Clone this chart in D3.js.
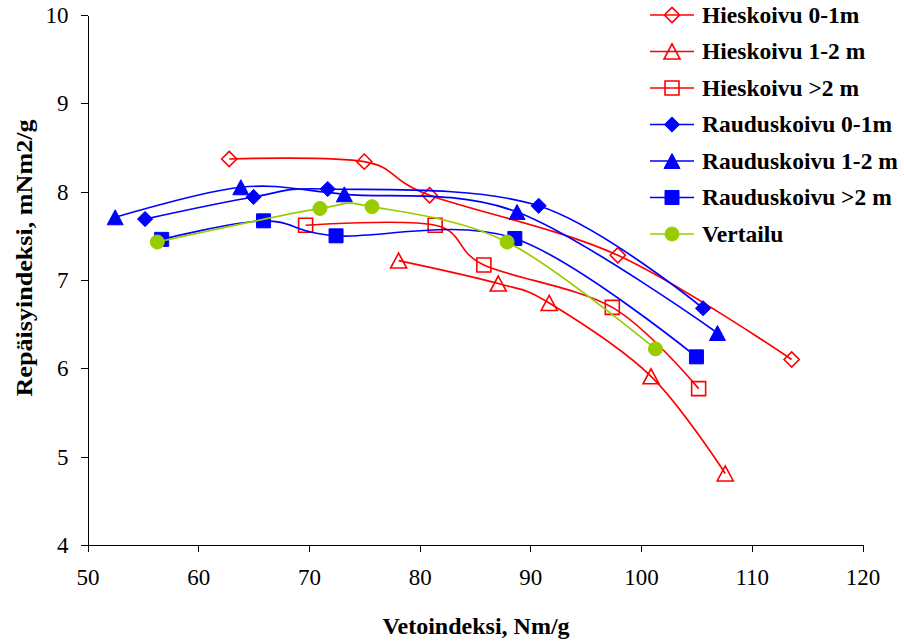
<!DOCTYPE html>
<html>
<head>
<meta charset="utf-8">
<script src="https://cdn.jsdelivr.net/npm/d3@7"></script>
<style>
  html, body { margin: 0; padding: 0; background: #fff; }
  svg { display: block; }
</style>
</head>
<body>
<svg id="chart" width="904" height="643"></svg>
<script>
// Tensile index (x) vs tear index (y) for each birch sample group
const seriesNames = [
  "Hieskoivu 0-1m", "Hieskoivu 1-2 m", "Hieskoivu >2 m",
  "Rauduskoivu 0-1m", "Rauduskoivu 1-2 m", "Rauduskoivu >2 m", "Vertailu"
];
const hies01X = [62.8, 75.0, 80.9, 97.9, 113.6];
const hies01Y = [8.37, 8.34, 7.96, 7.28, 6.10];
const hies12X = [78.1, 87.1, 91.7, 100.9, 107.6];
const hies12Y = [7.22, 6.96, 6.74, 5.91, 4.81];
const hies2X  = [69.7, 81.4, 85.8, 97.4, 105.2];
const hies2Y  = [7.62, 7.62, 7.17, 6.69, 5.77];
const raud01X = [55.2, 65.0, 71.7, 90.75, 105.6];
const raud01Y = [7.69, 7.94, 8.03, 7.84, 6.68];
const raud12X = [52.5, 63.85, 73.2, 88.8, 106.9];
const raud12Y = [7.71, 8.05, 7.97, 7.77, 6.40];
const raud2X  = [56.7, 65.9, 72.45, 88.6, 105.0];
const raud2Y  = [7.46, 7.67, 7.50, 7.47, 6.13];
const vertX   = [56.3, 71.0, 75.7, 87.9, 101.3];
const vertY   = [7.43, 7.81, 7.83, 7.43, 6.22];
const xTicks = [50, 60, 70, 80, 90, 100, 110, 120];
const yTicks = [4, 5, 6, 7, 8, 9, 10];

const RED = "#FF0000", BLUE = "#0000FF", GREEN = "#99CC00";
const SERIF = "'Liberation Serif'";
const series = [
  { name: seriesNames[0], xs: hies01X, ys: hies01Y, color: RED,   shape: "diamond",  filled: false },
  { name: seriesNames[1], xs: hies12X, ys: hies12Y, color: RED,   shape: "triangle", filled: false },
  { name: seriesNames[2], xs: hies2X,  ys: hies2Y,  color: RED,   shape: "square",   filled: false },
  { name: seriesNames[3], xs: raud01X, ys: raud01Y, color: BLUE,  shape: "diamond",  filled: true },
  { name: seriesNames[4], xs: raud12X, ys: raud12Y, color: BLUE,  shape: "triangle", filled: true },
  { name: seriesNames[5], xs: raud2X,  ys: raud2Y,  color: BLUE,  shape: "square",   filled: true },
  { name: seriesNames[6], xs: vertX,   ys: vertY,   color: GREEN, shape: "circle",   filled: true }
];

const svg = d3.select("#chart");
const x = d3.scaleLinear().domain([50, 120]).range([87.5, 862.5]);
const y = d3.scaleLinear().domain([4, 10]).range([545, 15]);

// Axes
const xAxis = d3.axisBottom(x).tickValues(xTicks).tickFormat(d3.format("d"))
  .tickSize(7).tickSizeOuter(0).tickPadding(17);
const yAxis = d3.axisLeft(y).tickValues(yTicks).tickFormat(d3.format("d"))
  .tickSize(7).tickSizeOuter(0).tickPadding(12);

const gx = svg.append("g").attr("transform", `translate(0,${y(4)})`).call(xAxis);
const gy = svg.append("g").attr("transform", `translate(${x(50)},0)`).call(yAxis);
[gx, gy].forEach(g => {
  g.attr("font-family", SERIF).attr("font-size", 23);
  g.selectAll("path.domain").attr("stroke", "#000").attr("stroke-width", 1).attr("shape-rendering", "crispEdges");
  g.selectAll(".tick line").attr("stroke", "#000").attr("stroke-width", 1).attr("shape-rendering", "crispEdges");
  g.selectAll(".tick text")
    .style("font-family", SERIF)
    .style("font-size", "23px").attr("fill", "#000");
});

// Axis titles
svg.append("text")
  .attr("x", 476).attr("y", 634)
  .attr("text-anchor", "middle")
  .style("font-family", SERIF).style("font-size", "24px").style("font-weight", "bold")
  .text("Vetoindeksi, Nm/g");

svg.append("text")
  .attr("transform", "translate(32,258) rotate(-90)")
  .attr("text-anchor", "middle")
  .attr("textLength", 277).attr("lengthAdjust", "spacingAndGlyphs")
  .style("font-family", SERIF).style("font-size", "24px").style("font-weight", "bold")
  .text("Repäisyindeksi, mNm2/g");

// Marker shapes
function markerPath(shape) {
  switch (shape) {
    case "diamond":  return "M0,-7.6L7.6,0L0,7.6L-7.6,0Z";
    case "triangle": return "M0,-7.5L8,7.5L-8,7.5Z";
    case "square":   return "M-7,-7L7,-7L7,7L-7,7Z";
    default:         return d3.symbol(d3.symbolCircle, Math.PI * 49)();
  }
}
function drawMarker(g, s, cx, cy) {
  g.append("path")
    .attr("d", markerPath(s.shape))
    .attr("transform", `translate(${cx},${cy})`)
    .attr("fill", s.filled ? s.color : "none")
    .attr("stroke", s.color)
    .attr("stroke-width", s.filled ? 1 : 1.6);
}

// Smoothed series lines and markers
const line = d3.line()
  .x(d => x(d[0])).y(d => y(d[1]))
  .curve(d3.curveCatmullRom.alpha(0));

series.forEach(s => {
  const pts = s.xs.map((v, i) => [v, s.ys[i]]);
  const g = svg.append("g");
  g.append("path")
    .datum(pts)
    .attr("d", line)
    .attr("fill", "none")
    .attr("stroke", s.color)
    .attr("stroke-width", 1.7);
  pts.forEach(p => drawMarker(g, s, x(p[0]), y(p[1])));
});

// Legend
const legend = svg.append("g");
series.forEach((s, i) => {
  const ly = 15 + i * 36.5;
  const g = legend.append("g");
  g.append("line")
    .attr("x1", 650).attr("x2", 694).attr("y1", ly).attr("y2", ly)
    .attr("stroke", s.color).attr("stroke-width", 1.7);
  drawMarker(g, s, 672, ly);
  g.append("text")
    .attr("x", 702).attr("y", ly).attr("dy", "0.34em")
    .style("font-family", SERIF).style("font-size", "23.5px").style("font-weight", "bold")
    .text(s.name);
});
</script>
</body>
</html>
